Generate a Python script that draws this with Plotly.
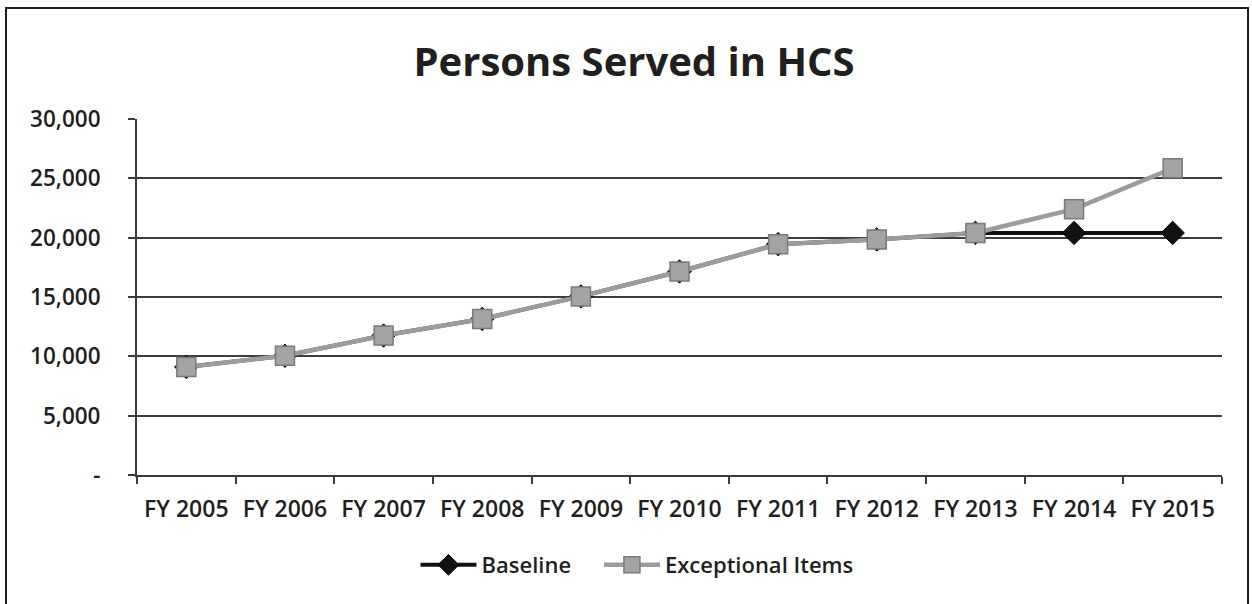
import plotly.graph_objects as go

# Fiscal years and persons served
years = ["FY 2005", "FY 2006", "FY 2007", "FY 2008", "FY 2009", "FY 2010",
         "FY 2011", "FY 2012", "FY 2013", "FY 2014", "FY 2015"]
baseline = [9100, 10050, 11750, 13150, 15050, 17150, 19450, 19850, 20400, 20400, 20400]
exceptional = [9100, 10050, 11750, 13150, 15050, 17150, 19450, 19850, 20400, 22400, 25850]

y_ticks = [0, 5000, 10000, 15000, 20000, 25000, 30000]
y_tick_text = ["-", "5,000", "10,000", "15,000", "20,000", "25,000", "30,000"]

FONT = "Open Sans, Lato, sans-serif"
INK = "#1f1f1f"
GRID = "#3c3c3c"
PAD = "\u00a0" * 4  # extra room between legend entries

W, H = 1252, 604
L, R, T, B = 137, 30, 119, 129
PW, PH = W - L - R, H - T - B

fig = go.Figure()
fig.add_trace(go.Scatter(
    x=years, y=baseline, name="Baseline" + PAD, mode="lines+markers",
    line=dict(color="#111111", width=4),
    marker=dict(symbol="diamond", size=18, color="#111111",
                line=dict(color="#000000", width=1)),
))
fig.add_trace(go.Scatter(
    x=years, y=exceptional, name="Exceptional Items", mode="lines+markers",
    line=dict(color="#9c9c9c", width=4.5),
    marker=dict(symbol="square", size=19, color="#a3a3a3",
                line=dict(color="#7a7a7a", width=1.5)),
))


def px_x(x):
    return (x - L) / PW


def px_y(y):
    return (H - B - y) / PH


# Outer chart frame
fig.add_shape(type="rect", xref="paper", yref="paper",
              x0=px_x(6), x1=px_x(1248), y0=px_y(612), y1=px_y(8),
              line=dict(color=INK, width=2), fillcolor="rgba(0,0,0,0)",
              layer="below")

fig.update_layout(
    width=W, height=H,
    margin=dict(l=L, r=R, t=T, b=B),
    paper_bgcolor="white", plot_bgcolor="white",
    font=dict(family=FONT, color=INK, size=22, weight=600),
    title=dict(text="<b>Persons Served in HCS</b>", x=634 / W, xanchor="center",
               xref="container", yref="container", y=1 - 62 / H, yanchor="middle",
               font=dict(family=FONT, size=40, color=INK)),
    showlegend=True,
    legend=dict(orientation="h", xref="container", yref="container",
                x=637 / W, xanchor="center", y=1 - 565 / H, yanchor="middle",
                font=dict(size=22, color=INK, weight=600), itemwidth=56,
                bgcolor="rgba(0,0,0,0)"),
    xaxis=dict(
        type="category", range=[-0.5, 10.5],
        showgrid=False, showline=True, linecolor=GRID, linewidth=2,
        ticks="outside", tickson="boundaries", ticklen=7, tickwidth=2,
        tickcolor=GRID, tickfont=dict(size=23, color=INK, weight=600),
        ticklabelstandoff=12,
    ),
    yaxis=dict(
        range=[0, 30000], tickvals=y_ticks, ticktext=y_tick_text,
        showgrid=True, gridcolor=GRID, gridwidth=2,
        showline=True, linecolor=GRID, linewidth=2,
        ticks="outside", ticklen=7, tickwidth=2, tickcolor=GRID,
        tickfont=dict(size=22.5, color=INK, weight=600), zeroline=False,
        ticklabelstandoff=23,
    ),
)

fig.write_html("out.html")
